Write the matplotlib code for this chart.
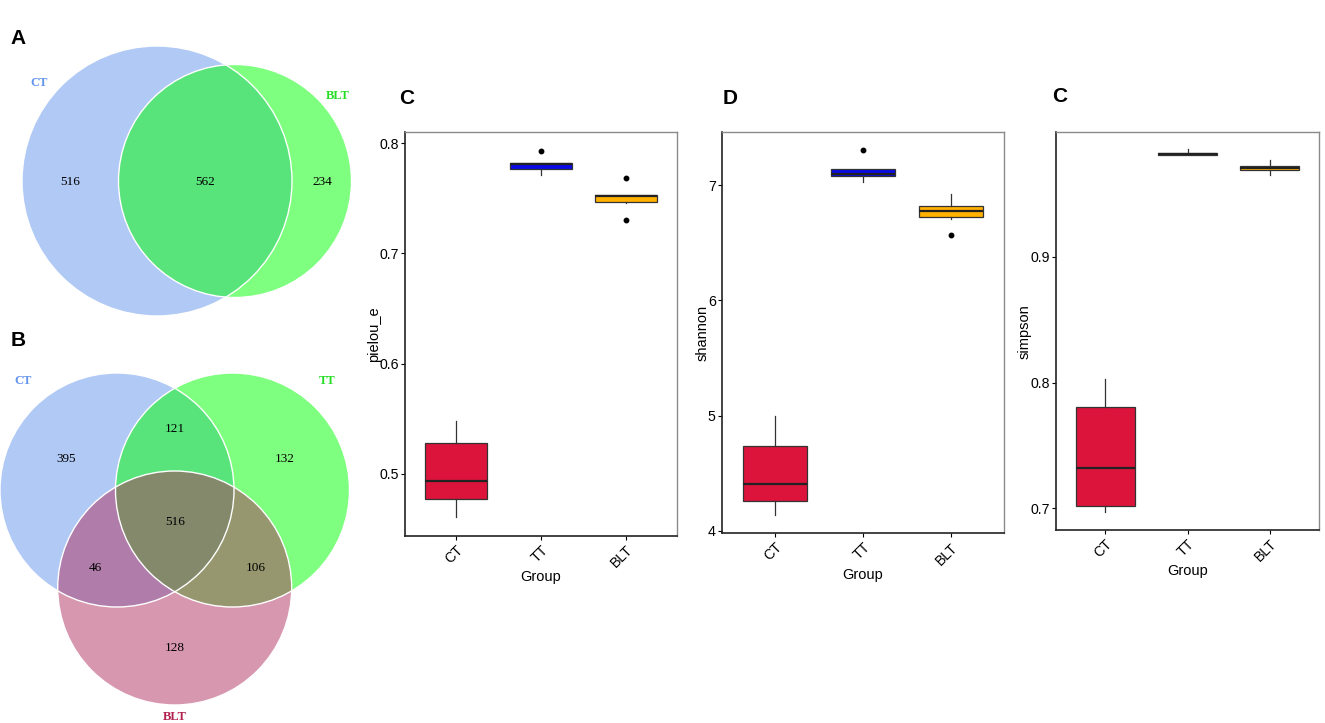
import matplotlib
matplotlib.use("Agg")
import matplotlib.pyplot as plt
from matplotlib.patches import Circle

# ---------------- data ----------------
groups = ["CT", "TT", "BLT"]
box_colors = ["#DC143C", "#0A0AE6", "#FFB000"]

venn_a_sets = ["CT", "BLT"]
venn_a_counts = [516, 562, 234]          # CT only, CT&BLT, BLT only

venn_b_sets = ["CT", "TT", "BLT"]
# CT only, CT&TT, TT only, all, CT&BLT, TT&BLT, BLT only
venn_b_counts = [395, 121, 132, 516, 46, 106, 128]

# box statistics: whislo, q1, med, q3, whishi, fliers
pielou_whislo = [0.4604, 0.7715, 0.7455]
pielou_q1     = [0.4773, 0.7764, 0.7466]
pielou_med    = [0.4936, 0.7815, 0.7522]
pielou_q3     = [0.5276, 0.7821, 0.7527]
pielou_whishi = [0.5480, 0.7821, 0.7527]
pielou_fliers = [[], [0.7933], [0.7682, 0.7303]]

shannon_whislo = [4.139, 7.030, 6.708]
shannon_q1     = [4.257, 7.078, 6.720]
shannon_med    = [4.407, 7.098, 6.772]
shannon_q3     = [4.740, 7.138, 6.818]
shannon_whishi = [5.000, 7.138, 6.922]
shannon_fliers = [[], [7.300], [6.569]]

simpson_whislo = [0.6973, 0.9810, 0.9650]
simpson_q1     = [0.7016, 0.9812, 0.9695]
simpson_med    = [0.7318, 0.9820, 0.9710]
simpson_q3     = [0.7803, 0.9828, 0.9722]
simpson_whishi = [0.8029, 0.9857, 0.9769]
simpson_fliers = [[], [], []]

W, H = 1325, 723
fig = plt.figure(figsize=(W / 100, H / 100), dpi=100)

# ---------------- Venn diagrams (pixel-space axes) ----------------
vax = fig.add_axes([0, 0, 1, 1], zorder=0)
vax.set_xlim(0, W)
vax.set_ylim(H, 0)
vax.axis("off")

serif = "Liberation Serif"
c_blue = "#6495ED"
c_green = "#00FF00"
c_maroon = "#B03060"

# A
circA = [(157, 181, 135, c_blue), (235, 181, 116.5, c_green)]
for (cx, cy, r, col) in circA:
    vax.add_patch(Circle((cx, cy), r, facecolor=col, alpha=0.5, edgecolor="none"))
for (cx, cy, r, col) in circA:
    vax.add_patch(Circle((cx, cy), r, facecolor="none", edgecolor="white", lw=1.0))
for (x, y), v in zip([(70, 182), (205, 182), (322, 182)], venn_a_counts):
    vax.text(x, y, str(v), ha="center", va="center", fontsize=9.5, family=serif, color="black")
vax.text(39, 83, venn_a_sets[0], ha="center", va="center", fontsize=9, family=serif,
         fontweight="bold", color=c_blue)
vax.text(338, 96, venn_a_sets[1], ha="center", va="center", fontsize=9, family=serif,
         fontweight="bold", color="#22DD22")

# B
circB = [(117, 490, 117, c_blue), (232.5, 490, 117, c_green), (174.7, 588, 117, c_maroon)]
for (cx, cy, r, col) in circB:
    vax.add_patch(Circle((cx, cy), r, facecolor=col, alpha=0.5, edgecolor="none"))
for (cx, cy, r, col) in circB:
    vax.add_patch(Circle((cx, cy), r, facecolor="none", edgecolor="white", lw=1.0))
posB = [(66, 459), (175, 429), (285, 459), (175, 522), (95, 568), (256, 568), (175, 648)]
for (x, y), v in zip(posB, venn_b_counts):
    vax.text(x, y, str(v), ha="center", va="center", fontsize=9.5, family=serif, color="black")
vax.text(23, 381, venn_b_sets[0], ha="center", va="center", fontsize=9, family=serif,
         fontweight="bold", color=c_blue)
vax.text(327, 381, venn_b_sets[1], ha="center", va="center", fontsize=9, family=serif,
         fontweight="bold", color="#22DD22")
vax.text(175, 717, venn_b_sets[2], ha="center", va="center", fontsize=9, family=serif,
         fontweight="bold", color="#B0204F")

sans = "Liberation Sans"
vax.text(18, 38, "A", ha="center", va="center", fontsize=15, family=sans, fontweight="bold")
vax.text(18, 341, "B", ha="center", va="center", fontsize=15, family=sans, fontweight="bold")
vax.text(407, 99, "C", ha="center", va="center", fontsize=15, family=sans, fontweight="bold")
vax.text(730, 98, "D", ha="center", va="center", fontsize=15, family=sans, fontweight="bold")
vax.text(1060, 96, "C", ha="center", va="center", fontsize=15, family=sans, fontweight="bold")


# ---------------- box plots ----------------
def box_panel(rect, whislo, q1, med, q3, whishi, fliers, ylabel, ylim, yticks, fmt):
    ax = fig.add_axes(rect, zorder=2)
    stats = []
    for i in range(len(groups)):
        stats.append(dict(whislo=whislo[i], q1=q1[i], med=med[i], q3=q3[i],
                          whishi=whishi[i], fliers=fliers[i], label=groups[i]))
    bp = ax.bxp(stats, positions=[1, 2, 3], widths=0.72, patch_artist=True,
                showcaps=False,
                boxprops=dict(edgecolor="#333333", linewidth=0.9),
                medianprops=dict(color="#222222", linewidth=1.6),
                whiskerprops=dict(color="#333333", linewidth=0.9),
                flierprops=dict(marker="o", markersize=3.2, markerfacecolor="black",
                                markeredgecolor="black"))
    for patch, c in zip(bp["boxes"], box_colors):
        patch.set_facecolor(c)
    ax.set_xlim(0.4, 3.6)
    ax.set_ylim(*ylim)
    ax.set_yticks(yticks)
    ax.set_yticklabels([fmt.format(t) for t in yticks], fontsize=10.2, family=sans)
    ax.set_xticks([1, 2, 3])
    ax.set_xticklabels(groups, rotation=45, ha="right", rotation_mode="anchor",
                       fontsize=10.2, family=sans)
    ax.set_xlabel("Group", fontsize=10.5, family=sans, labelpad=0)
    ax.set_ylabel(ylabel, fontsize=10.5, family=sans, labelpad=-1)
    ax.tick_params(direction="out", length=3, width=0.8, colors="black")
    ax.tick_params(axis="x", pad=2)
    ax.tick_params(axis="y", pad=1.5)
    for s in ["top", "right"]:
        ax.spines[s].set_color("#8a8a8a")
        ax.spines[s].set_linewidth(1.0)
    for s in ["left", "bottom"]:
        ax.spines[s].set_color("#222222")
        ax.spines[s].set_linewidth(1.2)
    return ax


box_panel([405 / W, 1 - 536 / H, 272 / W, 404 / H],
          pielou_whislo, pielou_q1, pielou_med, pielou_q3, pielou_whishi, pielou_fliers,
          "pielou_e", (0.4434, 0.8103), [0.5, 0.6, 0.7, 0.8], "{:.1f}")
box_panel([722 / W, 1 - 533.3 / H, 282 / W, 401 / H],
          shannon_whislo, shannon_q1, shannon_med, shannon_q3, shannon_whishi, shannon_fliers,
          "shannon", (3.98, 7.457), [4, 5, 6, 7], "{:.0f}")
box_panel([1056 / W, 1 - 530 / H, 263 / W, 397.7 / H],
          simpson_whislo, simpson_q1, simpson_med, simpson_q3, simpson_whishi, simpson_fliers,
          "simpson", (0.6827, 0.9992), [0.7, 0.8, 0.9], "{:.1f}")

fig.savefig("out.png", dpi=100)
